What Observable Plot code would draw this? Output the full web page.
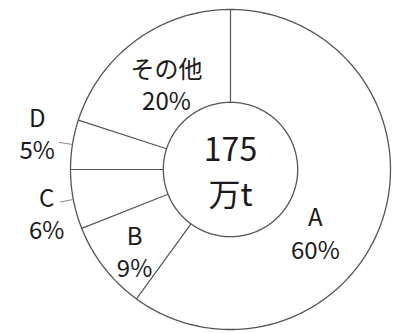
<!DOCTYPE html>
<html><head><meta charset="utf-8">
<script src="https://cdn.jsdelivr.net/npm/d3@7"></script>
<script src="https://cdn.jsdelivr.net/npm/@observablehq/plot@0.6"></script>
<style>body{margin:0;background:#fff}</style>
</head><body><div id="chart"></div>
<script>
// ---- data ----
const categories = ["A", "B", "C", "D", "その他"];
const shares = [60, 9, 6, 5, 20];          // percent
const totalValue = "175";
const totalUnit = "万t";
const outsideLabels = ["C", "D"];          // small slices labelled outside with a leader tick

// ---- layout ----
const W = 395, H = 333, R = 160, CX = 230, CY = 169, INNER = 0.42;
const labelAngle = [126.5, 229.8, 256.8, 280.8, 323.3];   // degrees clockwise from top
const labelRadius = [0.66, 0.785, 1.18, 1.23, 0.67];      // fraction of outer radius
const ink = "#555";
const font = "'Noto Sans CJK JP', 'Noto Sans', sans-serif";

const rad = d => d * Math.PI / 180;
const pt = (deg, r) => ({x: r * Math.sin(rad(deg)), y: r * Math.cos(rad(deg))});

// slices from cumulative shares
const total = d3.sum(shares);
let acc = 0;
const slices = categories.map((c, i) => {
  const a0 = acc / total * 360; acc += shares[i];
  const a1 = acc / total * 360;
  return {name: c, share: shares[i], a0, a1, mid: (a0 + a1) / 2, i};
});

const ring = r => d3.range(0, 361, 1).map(a => pt(a, r));
const boundaries = slices.map(s => {
  const p = pt(s.a0, INNER), q = pt(s.a0, 1);
  return {x1: p.x, y1: p.y, x2: q.x, y2: q.y};
});
const leaders = slices.filter(s => outsideLabels.includes(s.name)).map(s => {
  const p = pt(s.mid, 1), q = pt(s.mid, 1.085);
  return {x1: p.x, y1: p.y, x2: q.x, y2: q.y};
});
const labels = slices.map(s => ({...pt(labelAngle[s.i], labelRadius[s.i]), text: `${s.name}\n${s.share}%`}));

const chart = Plot.plot({
  width: W, height: H,
  margin: 0,
  x: {domain: [-CX / R, (W - CX) / R], range: [0, W], axis: null},
  y: {domain: [-(H - CY) / R, CY / R], range: [H, 0], axis: null},
  style: {background: "#fff"},
  marks: [
    Plot.line(ring(1), {x: "x", y: "y", stroke: ink, strokeWidth: 1.3}),
    Plot.line(ring(INNER), {x: "x", y: "y", stroke: ink, strokeWidth: 1.3}),
    Plot.link(boundaries, {x1: "x1", y1: "y1", x2: "x2", y2: "y2", stroke: ink, strokeWidth: 1.2}),
    Plot.link(leaders, {x1: "x1", y1: "y1", x2: "x2", y2: "y2", stroke: "#888", strokeWidth: 1}),
    Plot.text(labels, {x: "x", y: "y", text: "text", fontSize: 24, lineHeight: 1.35, fill: "#1a1a1a", fontFamily: font}),
    Plot.text([`${totalValue}\n${totalUnit}`], {x: () => 0, y: () => 0, text: d => d, fontSize: 32, lineHeight: 1.4, fill: "#1a1a1a", fontFamily: font})
  ]
});
document.getElementById("chart").append(chart);
</script>
</body></html>
